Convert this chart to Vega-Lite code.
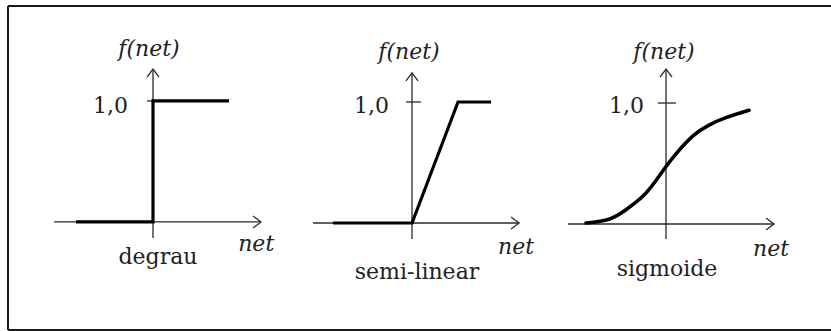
{
  "$schema": "https://vega.github.io/schema/vega-lite/v6.json",
  "padding": {"left": 7, "top": 5, "right": 0, "bottom": 2},
  "background": "white",
  "spacing": 0,
  "bounds": "flush",
  "config": {"view": {"stroke": null}, "axis": {"disable": true}, "concat": {"spacing": 0}},
  "datasets": {
    "frame": [{"edge": "frame"}],
    "curves": [
      {"panel": "degrau", "i": 1, "net": -1.638, "f": 0},
      {"panel": "degrau", "i": 2, "net": 0, "f": 0},
      {"panel": "degrau", "i": 3, "net": 0, "f": 1},
      {"panel": "degrau", "i": 4, "net": 1.617, "f": 1},
      {"panel": "semi-linear", "i": 1, "net": -1.681, "f": 0},
      {"panel": "semi-linear", "i": 2, "net": 0, "f": 0},
      {"panel": "semi-linear", "i": 3, "net": 0.979, "f": 1},
      {"panel": "semi-linear", "i": 4, "net": 1.681, "f": 1},
      {"panel": "sigmoide", "i": 1, "net": -1.702, "f": 0.008},
      {"panel": "sigmoide", "i": 2, "net": -1.213, "f": 0.04},
      {"panel": "sigmoide", "i": 3, "net": -0.851, "f": 0.118},
      {"panel": "sigmoide", "i": 4, "net": -0.489, "f": 0.231},
      {"panel": "sigmoide", "i": 5, "net": -0.213, "f": 0.36},
      {"panel": "sigmoide", "i": 6, "net": 0, "f": 0.475},
      {"panel": "sigmoide", "i": 7, "net": 0.213, "f": 0.58},
      {"panel": "sigmoide", "i": 8, "net": 0.574, "f": 0.728},
      {"panel": "sigmoide", "i": 9, "net": 0.915, "f": 0.818},
      {"panel": "sigmoide", "i": 10, "net": 1.277, "f": 0.879},
      {"panel": "sigmoide", "i": 11, "net": 1.766, "f": 0.94}
    ],
    "axes": [
      {"panel": "degrau", "x": -2.106, "x2": 2.298, "y": 0, "y2": 0},
      {"panel": "degrau", "x": 0, "x2": 0, "y": -0.132, "y2": 1.264},
      {"panel": "degrau", "x": -0.128, "x2": 0, "y": 1, "y2": 1},
      {"panel": "semi-linear", "x": -2.106, "x2": 2.277, "y": 0, "y2": 0},
      {"panel": "semi-linear", "x": 0, "x2": 0, "y": -0.132, "y2": 1.24},
      {"panel": "semi-linear", "x": -0.128, "x2": 0.191, "y": 1, "y2": 1},
      {"panel": "sigmoide", "x": -2.085, "x2": 2.298, "y": 0, "y2": 0},
      {"panel": "sigmoide", "x": 0, "x2": 0, "y": -0.124, "y2": 1.281},
      {"panel": "sigmoide", "x": -0.17, "x2": 0.213, "y": 1, "y2": 1}
    ],
    "arrows": [
      {"panel": "degrau", "dir": "right", "net": 2.298, "f": 0},
      {"panel": "degrau", "dir": "up", "net": 0, "f": 1.264},
      {"panel": "semi-linear", "dir": "right", "net": 2.277, "f": 0},
      {"panel": "semi-linear", "dir": "up", "net": 0, "f": 1.24},
      {"panel": "sigmoide", "dir": "right", "net": 2.298, "f": 0},
      {"panel": "sigmoide", "dir": "up", "net": 0, "f": 1.281}
    ],
    "labels": [
      {"panel": "degrau", "kind": "fy", "text": "f(net)", "net": -0.085, "f": 1.372},
      {"panel": "degrau", "kind": "one", "text": "1,0", "net": -0.532, "f": 0.901},
      {"panel": "degrau", "kind": "fx", "text": "net", "net": 2.196, "f": -0.24},
      {"panel": "degrau", "kind": "name", "text": "degrau", "net": 0.106, "f": -0.347},
      {"panel": "semi-linear", "kind": "fy", "text": "f(net)", "net": -0.064, "f": 1.355},
      {"panel": "semi-linear", "kind": "one", "text": "1,0", "net": -0.489, "f": 0.909},
      {"panel": "semi-linear", "kind": "fx", "text": "net", "net": 2.213, "f": -0.256},
      {"panel": "semi-linear", "kind": "name", "text": "semi-linear", "net": 0.106, "f": -0.463},
      {"panel": "sigmoide", "kind": "fy", "text": "f(net)", "net": -0.043, "f": 1.364},
      {"panel": "sigmoide", "kind": "one", "text": "1,0", "net": -0.468, "f": 0.917},
      {"panel": "sigmoide", "kind": "fx", "text": "net", "net": 2.234, "f": -0.264},
      {"panel": "sigmoide", "kind": "name", "text": "sigmoide", "net": 0.021, "f": -0.43}
    ]
  },
  "hconcat": [
    {
      "width": 272, "height": 324,
      "layer": [
        {"data": {"name": "frame"}, "mark": {"type": "rule", "color": "#1a1a1a", "strokeWidth": 2}, "encoding": {"y": {"datum": 1.785, "type": "quantitative", "scale": {"domain": [-0.893, 1.785], "nice": false, "zero": false}, "axis": null}}},
        {"data": {"name": "frame"}, "mark": {"type": "rule", "color": "#1a1a1a", "strokeWidth": 2}, "encoding": {"y": {"datum": -0.893, "type": "quantitative", "scale": {"domain": [-0.893, 1.785], "nice": false, "zero": false}, "axis": null}}},
        {"data": {"name": "frame"}, "mark": {"type": "rule", "color": "#1a1a1a", "strokeWidth": 2}, "encoding": {"x": {"datum": -3.085, "type": "quantitative", "scale": {"domain": [-3.085, 2.702], "nice": false, "zero": false}, "axis": null}}},
        {"data": {"name": "axes"}, "transform": [{"filter": "datum.panel === 'degrau'"}],
         "mark": {"type": "rule", "color": "#2a2a2a", "strokeWidth": 1.3},
         "encoding": {"x": {"field": "x", "type": "quantitative", "scale": {"domain": [-3.085, 2.702], "nice": false, "zero": false}, "axis": null}, "x2": {"field": "x2"},
                      "y": {"field": "y", "type": "quantitative", "scale": {"domain": [-0.893, 1.785], "nice": false, "zero": false}, "axis": null}, "y2": {"field": "y2"}}},
        {"data": {"name": "arrows"}, "transform": [{"filter": "datum.panel === 'degrau'"}],
         "mark": {"type": "point", "filled": false, "color": "#2a2a2a", "strokeWidth": 1.3, "size": 256, "opacity": 1},
         "encoding": {"x": {"field": "net", "type": "quantitative", "scale": {"domain": [-3.085, 2.702], "nice": false, "zero": false}, "axis": null},
                      "y": {"field": "f", "type": "quantitative", "scale": {"domain": [-0.893, 1.785], "nice": false, "zero": false}, "axis": null},
                      "shape": {"field": "dir", "type": "nominal", "scale": {"domain": ["right", "up"], "range": ["M-1,-0.75L0,0L-1,0.75", "M-0.75,1L0,0L0.75,1"]}, "legend": null}}},
        {"data": {"name": "curves"}, "transform": [{"filter": "datum.panel === 'degrau'"}],
         "mark": {"type": "line", "color": "#000000", "strokeWidth": 3.2, "strokeJoin": "miter", "strokeCap": "butt"},
         "encoding": {"x": {"field": "net", "type": "quantitative", "scale": {"domain": [-3.085, 2.702], "nice": false, "zero": false}, "axis": null},
                      "y": {"field": "f", "type": "quantitative", "scale": {"domain": [-0.893, 1.785], "nice": false, "zero": false}, "axis": null},
                      "order": {"field": "i", "type": "quantitative"}}},
        {"data": {"name": "labels"}, "transform": [{"filter": "datum.panel === 'degrau' && (datum.kind === 'fy' || datum.kind === 'fx')"}],
         "mark": {"type": "text", "font": "DejaVu Serif", "fontStyle": "italic", "fontSize": 22, "color": "#222222", "align": "center", "baseline": "alphabetic"},
         "encoding": {"x": {"field": "net", "type": "quantitative", "scale": {"domain": [-3.085, 2.702], "nice": false, "zero": false}, "axis": null},
                      "y": {"field": "f", "type": "quantitative", "scale": {"domain": [-0.893, 1.785], "nice": false, "zero": false}, "axis": null},
                      "text": {"field": "text"}}},
        {"data": {"name": "labels"}, "transform": [{"filter": "datum.panel === 'degrau' && datum.kind === 'one'"}],
         "mark": {"type": "text", "font": "DejaVu Serif", "fontSize": 22, "color": "#222222", "align": "right", "baseline": "alphabetic"},
         "encoding": {"x": {"field": "net", "type": "quantitative", "scale": {"domain": [-3.085, 2.702], "nice": false, "zero": false}, "axis": null},
                      "y": {"field": "f", "type": "quantitative", "scale": {"domain": [-0.893, 1.785], "nice": false, "zero": false}, "axis": null},
                      "text": {"field": "text"}}},
        {"data": {"name": "labels"}, "transform": [{"filter": "datum.panel === 'degrau' && datum.kind === 'name'"}],
         "mark": {"type": "text", "font": "DejaVu Serif", "fontSize": 22, "color": "#222222", "align": "center", "baseline": "alphabetic"},
         "encoding": {"x": {"field": "net", "type": "quantitative", "scale": {"domain": [-3.085, 2.702], "nice": false, "zero": false}, "axis": null},
                      "y": {"field": "f", "type": "quantitative", "scale": {"domain": [-0.893, 1.785], "nice": false, "zero": false}, "axis": null},
                      "text": {"field": "text"}}}
      ]
    },
    {
      "width": 271, "height": 324,
      "layer": [
        {"data": {"name": "frame"}, "mark": {"type": "rule", "color": "#1a1a1a", "strokeWidth": 2}, "encoding": {"y": {"datum": 1.793, "type": "quantitative", "scale": {"domain": [-0.884, 1.793], "nice": false, "zero": false}, "axis": null}}},
        {"data": {"name": "frame"}, "mark": {"type": "rule", "color": "#1a1a1a", "strokeWidth": 2}, "encoding": {"y": {"datum": -0.884, "type": "quantitative", "scale": {"domain": [-0.884, 1.793], "nice": false, "zero": false}, "axis": null}}},
        {"data": {"name": "axes"}, "transform": [{"filter": "datum.panel === 'semi-linear'"}],
         "mark": {"type": "rule", "color": "#2a2a2a", "strokeWidth": 1.3},
         "encoding": {"x": {"field": "x", "type": "quantitative", "scale": {"domain": [-2.809, 2.957], "nice": false, "zero": false}, "axis": null}, "x2": {"field": "x2"},
                      "y": {"field": "y", "type": "quantitative", "scale": {"domain": [-0.884, 1.793], "nice": false, "zero": false}, "axis": null}, "y2": {"field": "y2"}}},
        {"data": {"name": "arrows"}, "transform": [{"filter": "datum.panel === 'semi-linear'"}],
         "mark": {"type": "point", "filled": false, "color": "#2a2a2a", "strokeWidth": 1.3, "size": 256, "opacity": 1},
         "encoding": {"x": {"field": "net", "type": "quantitative", "scale": {"domain": [-2.809, 2.957], "nice": false, "zero": false}, "axis": null},
                      "y": {"field": "f", "type": "quantitative", "scale": {"domain": [-0.884, 1.793], "nice": false, "zero": false}, "axis": null},
                      "shape": {"field": "dir", "type": "nominal", "scale": {"domain": ["right", "up"], "range": ["M-1,-0.75L0,0L-1,0.75", "M-0.75,1L0,0L0.75,1"]}, "legend": null}}},
        {"data": {"name": "curves"}, "transform": [{"filter": "datum.panel === 'semi-linear'"}],
         "mark": {"type": "line", "color": "#000000", "strokeWidth": 3.2, "strokeJoin": "miter", "strokeCap": "butt"},
         "encoding": {"x": {"field": "net", "type": "quantitative", "scale": {"domain": [-2.809, 2.957], "nice": false, "zero": false}, "axis": null},
                      "y": {"field": "f", "type": "quantitative", "scale": {"domain": [-0.884, 1.793], "nice": false, "zero": false}, "axis": null},
                      "order": {"field": "i", "type": "quantitative"}}},
        {"data": {"name": "labels"}, "transform": [{"filter": "datum.panel === 'semi-linear' && (datum.kind === 'fy' || datum.kind === 'fx')"}],
         "mark": {"type": "text", "font": "DejaVu Serif", "fontStyle": "italic", "fontSize": 22, "color": "#222222", "align": "center", "baseline": "alphabetic"},
         "encoding": {"x": {"field": "net", "type": "quantitative", "scale": {"domain": [-2.809, 2.957], "nice": false, "zero": false}, "axis": null},
                      "y": {"field": "f", "type": "quantitative", "scale": {"domain": [-0.884, 1.793], "nice": false, "zero": false}, "axis": null},
                      "text": {"field": "text"}}},
        {"data": {"name": "labels"}, "transform": [{"filter": "datum.panel === 'semi-linear' && datum.kind === 'one'"}],
         "mark": {"type": "text", "font": "DejaVu Serif", "fontSize": 22, "color": "#222222", "align": "right", "baseline": "alphabetic"},
         "encoding": {"x": {"field": "net", "type": "quantitative", "scale": {"domain": [-2.809, 2.957], "nice": false, "zero": false}, "axis": null},
                      "y": {"field": "f", "type": "quantitative", "scale": {"domain": [-0.884, 1.793], "nice": false, "zero": false}, "axis": null},
                      "text": {"field": "text"}}},
        {"data": {"name": "labels"}, "transform": [{"filter": "datum.panel === 'semi-linear' && datum.kind === 'name'"}],
         "mark": {"type": "text", "font": "DejaVu Serif", "fontSize": 22, "color": "#222222", "align": "center", "baseline": "alphabetic"},
         "encoding": {"x": {"field": "net", "type": "quantitative", "scale": {"domain": [-2.809, 2.957], "nice": false, "zero": false}, "axis": null},
                      "y": {"field": "f", "type": "quantitative", "scale": {"domain": [-0.884, 1.793], "nice": false, "zero": false}, "axis": null},
                      "text": {"field": "text"}}}
      ]
    },
    {
      "width": 281, "height": 324,
      "layer": [
        {"data": {"name": "frame"}, "mark": {"type": "rule", "color": "#1a1a1a", "strokeWidth": 2}, "encoding": {"y": {"datum": 1.802, "type": "quantitative", "scale": {"domain": [-0.876, 1.802], "nice": false, "zero": false}, "axis": null}}},
        {"data": {"name": "frame"}, "mark": {"type": "rule", "color": "#1a1a1a", "strokeWidth": 2}, "encoding": {"y": {"datum": -0.876, "type": "quantitative", "scale": {"domain": [-0.876, 1.802], "nice": false, "zero": false}, "axis": null}}},
        {"data": {"name": "axes"}, "transform": [{"filter": "datum.panel === 'sigmoide'"}],
         "mark": {"type": "rule", "color": "#2a2a2a", "strokeWidth": 1.3},
         "encoding": {"x": {"field": "x", "type": "quantitative", "scale": {"domain": [-2.447, 3.532], "nice": false, "zero": false}, "axis": null}, "x2": {"field": "x2"},
                      "y": {"field": "y", "type": "quantitative", "scale": {"domain": [-0.876, 1.802], "nice": false, "zero": false}, "axis": null}, "y2": {"field": "y2"}}},
        {"data": {"name": "arrows"}, "transform": [{"filter": "datum.panel === 'sigmoide'"}],
         "mark": {"type": "point", "filled": false, "color": "#2a2a2a", "strokeWidth": 1.3, "size": 256, "opacity": 1},
         "encoding": {"x": {"field": "net", "type": "quantitative", "scale": {"domain": [-2.447, 3.532], "nice": false, "zero": false}, "axis": null},
                      "y": {"field": "f", "type": "quantitative", "scale": {"domain": [-0.876, 1.802], "nice": false, "zero": false}, "axis": null},
                      "shape": {"field": "dir", "type": "nominal", "scale": {"domain": ["right", "up"], "range": ["M-1,-0.75L0,0L-1,0.75", "M-0.75,1L0,0L0.75,1"]}, "legend": null}}},
        {"data": {"name": "curves"}, "transform": [{"filter": "datum.panel === 'sigmoide'"}],
         "mark": {"type": "line", "color": "#000000", "strokeWidth": 3.6, "interpolate": "natural", "strokeCap": "round"},
         "encoding": {"x": {"field": "net", "type": "quantitative", "scale": {"domain": [-2.447, 3.532], "nice": false, "zero": false}, "axis": null},
                      "y": {"field": "f", "type": "quantitative", "scale": {"domain": [-0.876, 1.802], "nice": false, "zero": false}, "axis": null},
                      "order": {"field": "i", "type": "quantitative"}}},
        {"data": {"name": "labels"}, "transform": [{"filter": "datum.panel === 'sigmoide' && (datum.kind === 'fy' || datum.kind === 'fx')"}],
         "mark": {"type": "text", "font": "DejaVu Serif", "fontStyle": "italic", "fontSize": 22, "color": "#222222", "align": "center", "baseline": "alphabetic"},
         "encoding": {"x": {"field": "net", "type": "quantitative", "scale": {"domain": [-2.447, 3.532], "nice": false, "zero": false}, "axis": null},
                      "y": {"field": "f", "type": "quantitative", "scale": {"domain": [-0.876, 1.802], "nice": false, "zero": false}, "axis": null},
                      "text": {"field": "text"}}},
        {"data": {"name": "labels"}, "transform": [{"filter": "datum.panel === 'sigmoide' && datum.kind === 'one'"}],
         "mark": {"type": "text", "font": "DejaVu Serif", "fontSize": 22, "color": "#222222", "align": "right", "baseline": "alphabetic"},
         "encoding": {"x": {"field": "net", "type": "quantitative", "scale": {"domain": [-2.447, 3.532], "nice": false, "zero": false}, "axis": null},
                      "y": {"field": "f", "type": "quantitative", "scale": {"domain": [-0.876, 1.802], "nice": false, "zero": false}, "axis": null},
                      "text": {"field": "text"}}},
        {"data": {"name": "labels"}, "transform": [{"filter": "datum.panel === 'sigmoide' && datum.kind === 'name'"}],
         "mark": {"type": "text", "font": "DejaVu Serif", "fontSize": 22, "color": "#222222", "align": "center", "baseline": "alphabetic"},
         "encoding": {"x": {"field": "net", "type": "quantitative", "scale": {"domain": [-2.447, 3.532], "nice": false, "zero": false}, "axis": null},
                      "y": {"field": "f", "type": "quantitative", "scale": {"domain": [-0.876, 1.802], "nice": false, "zero": false}, "axis": null},
                      "text": {"field": "text"}}}
      ]
    }
  ]
}
